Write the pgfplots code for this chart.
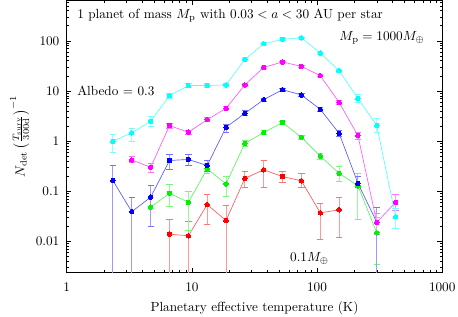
\documentclass[border=0pt]{standalone}
\usepackage{pgfplots}
\pgfplotsset{compat=1.18}
\usepackage{pgfplotstable}
\definecolor{cC}{rgb}{0,1,1}
\definecolor{cM}{rgb}{1,0,1}
\definecolor{cB}{rgb}{0,0,1}
\definecolor{cG}{rgb}{0,0.95,0}
\definecolor{cR}{rgb}{1,0,0}

\pgfplotstableread{
T N lo hi
2.34 0.99 0.60 1.39
3.31 1.46 0.99 1.83
4.69 2.48 1.97 3.07
6.63 8.06 7.2 9.0
9.375 12.8 11.8 13.9
13.26 12.8 11.8 13.9
18.75 13.2 12.3 14.2
26.5 42.4 40 45
37.5 87.5 84 91
53.0 107 103 111
75.0 115 111 119
106.1 57 54 60
150 25.4 23.5 27.5
212.1 7.1 6.0 8.4
300 2.04 1.50 2.77
424.3 0.031 0.018 0.045
}\cyandata

\pgfplotstableread{
T N lo hi
3.31 0.42 0.37 0.50
4.69 0.30 0.232 0.361
6.63 2.04 1.83 2.26
9.375 1.50 1.38 1.63
13.26 2.68 2.50 2.90
18.75 4.5 4.2 4.85
26.5 13.2 12.5 14.0
37.5 29.5 28.3 30.8
53.0 37.8 36.4 39.3
75.0 30.9 29.6 32.2
106.1 20.2 19.2 21.2
150 5.9 5.4 6.4
212.1 1.29 1.07 1.46
300 0.024 0.014 0.036
424.3 0.060 0.042 0.085
}\magdata

\pgfplotstableread{
T N lo hi
2.34 0.163 0.001 0.325
3.31 0.039 0.001 0.076
4.69 0.076 0.020 0.13
6.63 0.41 0.27 0.54
9.375 0.43 0.325 0.54
13.26 0.325 0.25 0.41
18.75 1.88 1.5 2.2
26.5 3.58 3.2 4.0
37.5 6.7 6.2 7.2
53.0 10.6 10.0 11.2
75.0 8.3 7.8 8.8
106.1 4.3 3.95 4.7
150 1.43 1.25 1.65
212.1 0.144 0.117 0.196
300 0.024 0.001 0.048
}\bluedata

\pgfplotstableread{
T N lo hi
4.69 0.048 0.020 0.075
6.63 0.091 0.049 0.134
9.375 0.060 0.0165 0.10
13.26 0.28 0.222 0.36
18.75 0.14 0.078 0.196
26.5 0.90 0.80 1.02
37.5 1.48 1.35 1.62
53.0 2.34 2.2 2.5
75.0 1.19 1.08 1.3
106.1 0.50 0.44 0.57
150 0.228 0.158 0.31
212.1 0.128 0.028 0.222
300 0.0148 0.0034 0.03
}\greendata

\pgfplotstableread{
T N lo hi
6.63 0.0139 0.001 0.028
9.375 0.0129 0.001 0.0255
13.26 0.054 0.0214 0.086
18.75 0.026 0.001 0.052
26.5 0.18 0.117 0.247
37.5 0.267 0.117 0.41
53.0 0.196 0.147 0.25
75.0 0.161 0.117 0.228
106.1 0.037 0.0107 0.058
150 0.0426 0.0118 0.074
}\reddata

\pgfplotsset{
  ser/.style={color=#1!65, line width=0.5pt, mark=*, mark size=1.7pt,
    mark options={draw=#1, fill=#1, line width=0pt},
    error bars/.cd, y dir=both, y explicit,
    error bar style={color=#1!40, line width=0.7pt},
    error mark options={rotate=90, mark size=2.4pt, color=#1!55, line width=0.6pt}},
}

\begin{document}
\begin{tikzpicture}
\begin{axis}[
  scale only axis, width=283.9pt, height=205.6pt,
  xmode=log, ymode=log,
  xmin=1, xmax=1000, ymin=0.0024, ymax=640,
  xtick={1,10,100,1000}, xticklabels={1,10,100,1000},
  ytick={0.01,0.1,1,10,100}, yticklabels={0.01,0.1,1,10,100},
  minor xtick={2,3,4,5,6,7,8,9,20,30,40,50,60,70,80,90,200,300,400,500,600,700,800,900},
  minor ytick={0.003,0.004,0.005,0.006,0.007,0.008,0.009,0.02,0.03,0.04,0.05,0.06,0.07,0.08,0.09,0.2,0.3,0.4,0.5,0.6,0.7,0.8,0.9,2,3,4,5,6,7,8,9,20,30,40,50,60,70,80,90,200,300,400,500,600},
  tick align=inside, tick pos=both,
  major tick length=3.6pt, minor tick length=2pt,
  every tick/.style={black, line width=0.4pt},
  axis line style={line width=0.6pt},
  xticklabel style={yshift=-4.5pt},
  yticklabel style={xshift=-2pt},
  xlabel={Planetary effective temperature (K)},
  xlabel style={at={(axis description cs:0.5,0)}, anchor=center, yshift=-27pt},
  ylabel={$N_{\rm det}\left(\frac{T_{\rm surv}}{300{\rm d}}\right)^{-1}$},
  ylabel style={at={(axis description cs:-0.125,0.5)}, anchor=center},
]
\addplot[ser=cR] table[x=T, y=N, y error plus expr=\thisrow{hi}-\thisrow{N}, y error minus expr=\thisrow{N}-\thisrow{lo}] {\reddata};
\addplot[ser=cG] table[x=T, y=N, y error plus expr=\thisrow{hi}-\thisrow{N}, y error minus expr=\thisrow{N}-\thisrow{lo}] {\greendata};
\addplot[ser=cB] table[x=T, y=N, y error plus expr=\thisrow{hi}-\thisrow{N}, y error minus expr=\thisrow{N}-\thisrow{lo}] {\bluedata};
\addplot[ser=cM] table[x=T, y=N, y error plus expr=\thisrow{hi}-\thisrow{N}, y error minus expr=\thisrow{N}-\thisrow{lo}] {\magdata};
\addplot[ser=cC] table[x=T, y=N, y error plus expr=\thisrow{hi}-\thisrow{N}, y error minus expr=\thisrow{N}-\thisrow{lo}] {\cyandata};

\node[anchor=west, inner sep=0pt] at (axis cs:1.21,316) {1 planet of mass $M_{\rm p}$ with $0.03 < a < 30$ AU per star};
\node[anchor=east, inner sep=0pt] at (axis cs:727,117) {$M_{\rm p} = 1000M_\oplus$};
\node[anchor=west, inner sep=0pt] at (axis cs:1.21,10.1) {Albedo = 0.3};
\node[inner sep=0pt] at (axis cs:87,0.0046) {$0.1M_\oplus$};
\end{axis}
\pgfresetboundingbox
\path[use as bounding box] (-50.4pt,-33.3pt) rectangle (295.8pt,205.9pt);
\end{tikzpicture}
\end{document}
